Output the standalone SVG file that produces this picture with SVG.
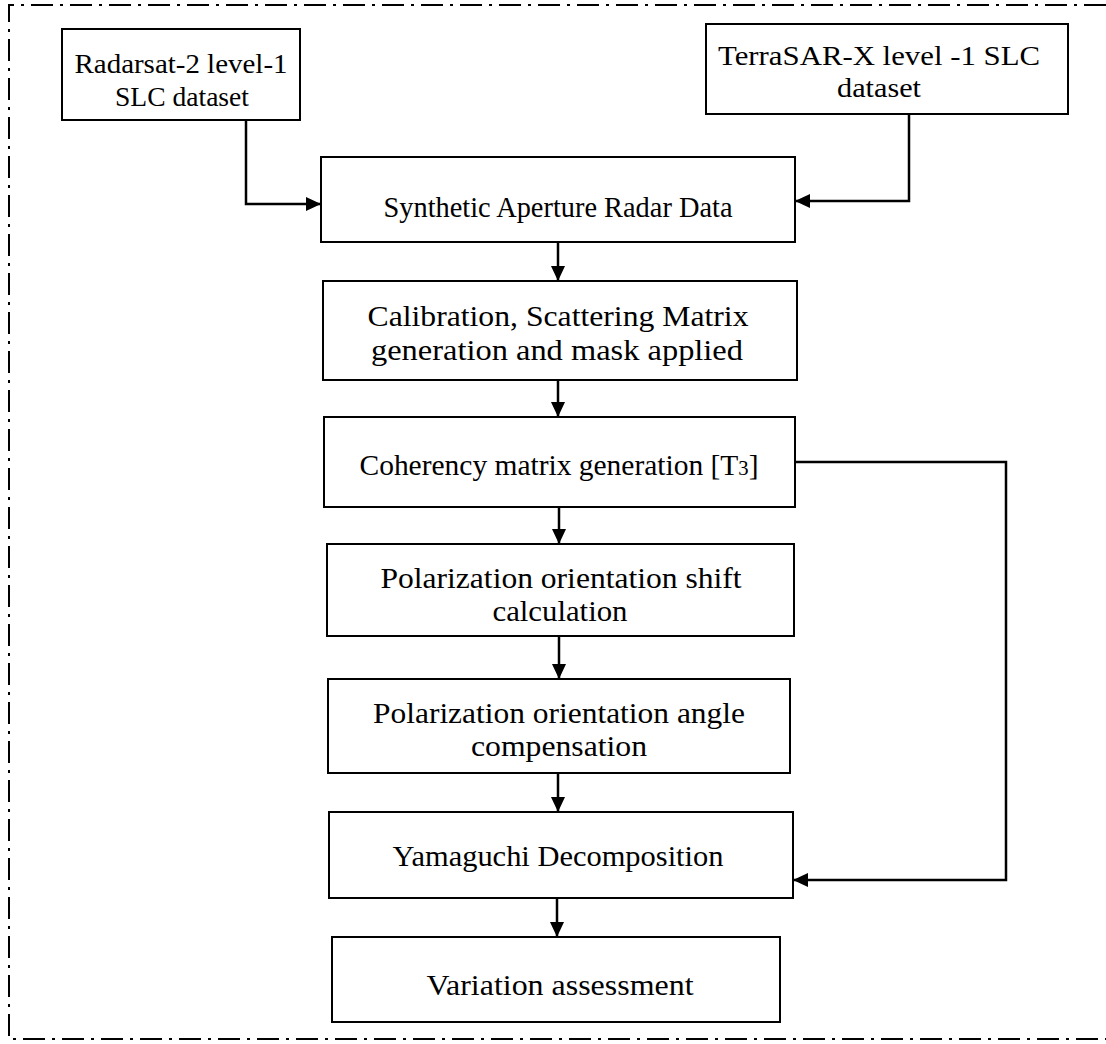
<svg xmlns="http://www.w3.org/2000/svg" width="1106" height="1044" viewBox="0 0 1106 1044">
<defs>
<marker id="ah" markerUnits="userSpaceOnUse" markerWidth="16" markerHeight="14" refX="15" refY="7" orient="auto">
<path d="M0,0 L15,7 L0,14 Z" fill="#000"/>
</marker>
<style>
.box{fill:#fff;stroke:#000;stroke-width:2}
.t1{font-family:"Liberation Serif","Times New Roman",serif;font-size:28px;fill:#000;text-anchor:middle}
.t2{font-family:"Liberation Serif","Times New Roman",serif;font-size:30px;fill:#000;text-anchor:middle}
.conn{fill:none;stroke:#000;stroke-width:2.5}
.border{fill:none;stroke:#000;stroke-width:2;stroke-dasharray:22 7 3 7}
</style>
</defs>
<rect width="1106" height="1044" fill="#fff"/>
<path class="border" d="M1106,5 H9 V1039 H1106"/>
<g id="connectors">
<path class="conn" d="M246,120 V204 H321" marker-end="url(#ah)"/>
<path class="conn" d="M909,114 V201 H795" marker-end="url(#ah)"/>
<path class="conn" d="M558,242 V281" marker-end="url(#ah)"/>
<path class="conn" d="M558,380 V417" marker-end="url(#ah)"/>
<path class="conn" d="M559,507 V544" marker-end="url(#ah)"/>
<path class="conn" d="M559,636 V679" marker-end="url(#ah)"/>
<path class="conn" d="M558,773 V812" marker-end="url(#ah)"/>
<path class="conn" d="M557,898 V937" marker-end="url(#ah)"/>
<path class="conn" d="M795,462 H1006 V880 H793" marker-end="url(#ah)"/>
</g>
<g id="radarsat">
<rect class="box" x="62" y="29" width="238" height="91"/>
<text class="t1" x="181" y="73" textLength="213" lengthAdjust="spacingAndGlyphs">Radarsat-2 level-1</text>
<text class="t1" x="182" y="106" textLength="134" lengthAdjust="spacingAndGlyphs">SLC dataset</text>
</g>
<g id="terrasar">
<rect class="box" x="706" y="24" width="362" height="90"/>
<text class="t1" x="879" y="65" textLength="322" lengthAdjust="spacingAndGlyphs">TerraSAR-X level -1 SLC</text>
<text class="t1" x="879" y="97" textLength="84" lengthAdjust="spacingAndGlyphs">dataset</text>
</g>
<g id="sar">
<rect class="box" x="321" y="157" width="474" height="85"/>
<text class="t2" x="558" y="217" textLength="349" lengthAdjust="spacingAndGlyphs">Synthetic Aperture Radar Data</text>
</g>
<g id="calibration">
<rect class="box" x="323" y="281" width="474" height="99"/>
<text class="t2" x="558" y="326" textLength="381" lengthAdjust="spacingAndGlyphs">Calibration, Scattering Matrix</text>
<text class="t2" x="557" y="360" textLength="372" lengthAdjust="spacingAndGlyphs">generation and mask applied</text>
</g>
<g id="coherency">
<rect class="box" x="324" y="417" width="471" height="90"/>
<text class="t2" x="559" y="475" textLength="399" lengthAdjust="spacingAndGlyphs">Coherency matrix generation [T<tspan font-size="21">3</tspan>]</text>
</g>
<g id="pol-shift">
<rect class="box" x="327" y="544" width="467" height="92"/>
<text class="t2" x="561" y="588" textLength="361" lengthAdjust="spacingAndGlyphs">Polarization orientation shift</text>
<text class="t2" x="560" y="621" textLength="135" lengthAdjust="spacingAndGlyphs">calculation</text>
</g>
<g id="pol-angle">
<rect class="box" x="328" y="679" width="462" height="94"/>
<text class="t2" x="559" y="723" textLength="372" lengthAdjust="spacingAndGlyphs">Polarization orientation angle</text>
<text class="t2" x="559" y="756" textLength="176" lengthAdjust="spacingAndGlyphs">compensation</text>
</g>
<g id="yamaguchi">
<rect class="box" x="329" y="812" width="464" height="86"/>
<text class="t2" x="558" y="866" textLength="331" lengthAdjust="spacingAndGlyphs">Yamaguchi Decomposition</text>
</g>
<g id="variation">
<rect class="box" x="332" y="937" width="448" height="85"/>
<text class="t2" x="560" y="995" textLength="267" lengthAdjust="spacingAndGlyphs">Variation assessment</text>
</g>
</svg>
